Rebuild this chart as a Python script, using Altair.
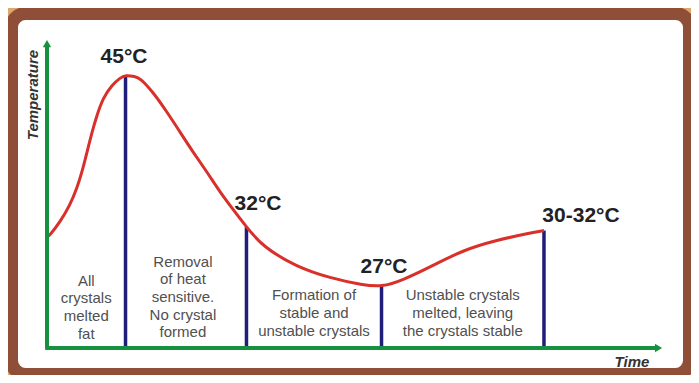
import altair as alt
import pandas as pd

# ---- data ----
# tempering curve: time (arbitrary units) and temperature (°C)
curve_time = [0.00, 0.49, 2.12, 3.75, 4.89, 5.71, 6.53, 7.34, 8.16, 9.14, 10.60, 11.91,
              12.81, 14.36, 15.17, 17.29, 19.58, 21.70, 23.82, 26.10, 28.22, 30.34,
              32.54, 35.24, 40.78, 46.17, 51.55, 54.57, 58.08, 62.48, 67.86, 73.41,
              78.79, 81.07]
curve_temp = [31.25, 31.42, 32.52, 33.96, 35.41, 36.77, 38.46, 40.16, 41.60, 43.05, 44.15, 44.75,
              45.0, 44.87, 44.75, 43.56, 41.86, 40.16, 38.46, 36.77, 35.07, 33.60,
              32.1, 30.40, 28.70, 27.77, 27.17, 27.0, 27.6, 28.70, 30.14, 30.99,
              31.59, 31.8]

# key stages (vertical lines)
key_time = [12.81, 32.54, 54.57, 81.07]
key_temp = [45.0, 32.1, 27.05, 31.8]
key_label = ["45°C", "32°C", "27°C", "30-32°C"]
label_time = [12.56, 34.42, 54.98, 87.11]
label_temp = [46.49, 34.09, 28.70, 33.07]

# stage descriptions
stage_text = [
    "All\ncrystals\nmelted\nfat",
    "Removal\nof heat\nsensitive.\nNo crystal\nformed",
    "Formation of\nstable and\nunstable crystals",
    "Unstable crystals\nmelted, leaving\nthe crystals stable",
]
stage_top_temp = [28.15, 29.76, 26.88, 26.88]

# axes
axis_base_temp = 21.83
axis_top_temp = 47.67
axis_end_time = 99.76
x_domain = [-5.79, 104.81]
y_domain = [19.58, 50.22]

stage_bounds = [0.0] + key_time
stage_mid = [(stage_bounds[i] + stage_bounds[i + 1]) / 2 for i in range(4)]
stage_mid[1] -= 0.5

curve_df = pd.DataFrame({"t": curve_time, "T": curve_temp})
key_df = pd.DataFrame({"t": key_time, "T": key_temp, "base": [axis_base_temp] * 4})
lab_df = pd.DataFrame({"t": label_time, "T": label_temp, "label": key_label})
stage_df = pd.DataFrame({"t": stage_mid, "T": stage_top_temp, "text": stage_text})

xs = alt.Scale(domain=x_domain, nice=False, zero=False)
ys = alt.Scale(domain=y_domain, nice=False, zero=False)

GREEN = "#16913f"
BLUE = "#1f1f7a"
RED = "#d8302a"

yaxis_df = pd.DataFrame({"t": [0, 0], "T": [axis_base_temp, axis_top_temp]})
xaxis_df = pd.DataFrame({"t": [-0.3, axis_end_time], "T": [axis_base_temp, axis_base_temp]})

X = alt.X("t:Q", scale=xs, axis=None)
Y = alt.Y("T:Q", scale=ys, axis=None)

yaxis = alt.Chart(yaxis_df).mark_line(color=GREEN, strokeWidth=4).encode(x=X, y=Y)
xaxis = alt.Chart(xaxis_df).mark_line(color=GREEN, strokeWidth=4).encode(x=X, y=Y)
yarrow = alt.Chart(pd.DataFrame({"t": [0], "T": [axis_top_temp]})).mark_point(
    shape="triangle-up", filled=True, color=GREEN, size=70, opacity=1).encode(x=X, y=Y)
xarrow = alt.Chart(pd.DataFrame({"t": [axis_end_time], "T": [axis_base_temp]})).mark_point(
    shape="triangle-right", filled=True, color=GREEN, size=70, opacity=1).encode(x=X, y=Y)

vlines = alt.Chart(key_df).mark_rule(color=BLUE, strokeWidth=3.5).encode(x=X, y=Y, y2="base:Q")

curve = alt.Chart(curve_df).mark_line(color=RED, strokeWidth=3, interpolate="basis").encode(
    x=X, y=Y)

labels = alt.Chart(lab_df).mark_text(
    font="Liberation Sans", fontSize=21, fontWeight="bold", color="#222222",
    align="center", baseline="middle").encode(x=X, y=Y, text="label:N")

stages = alt.Chart(stage_df).mark_text(
    font="Liberation Sans", fontSize=15, color="#505050", align="center",
    baseline="top", lineBreak="\n", lineHeight=17.7).encode(x=X, y=Y, text="text:N")

ytitle = alt.Chart(pd.DataFrame({"t": [-2.28], "T": [43.30], "s": ["Temperature"]})).mark_text(
    font="Liberation Sans", fontSize=15, fontWeight="bold", fontStyle="italic", color="#333333",
    angle=270, align="center", baseline="middle").encode(x=X, y=Y, text="s:N")

xtitle = alt.Chart(pd.DataFrame({"t": [95.43], "T": [20.64], "s": ["Time"]})).mark_text(
    font="Liberation Sans", fontSize=15, fontWeight="bold", fontStyle="italic", color="#333333",
    align="center", baseline="middle").encode(x=X, y=Y, text="s:N")

chart = alt.layer(
    vlines, curve, yaxis, xaxis, yarrow, xarrow, labels, stages, ytitle, xtitle
).properties(
    width=678, height=361, background="#dca96c",
    autosize=alt.AutoSizeParams(type="none"),
    padding={"left": 3.5, "top": 5.5, "right": 1.5, "bottom": 0.5},
).configure_view(
    fill="white", stroke="#8f4e38", strokeWidth=13, cornerRadius=14
)

chart.save("out.html", embed_options={"renderer": "svg", "actions": False})
